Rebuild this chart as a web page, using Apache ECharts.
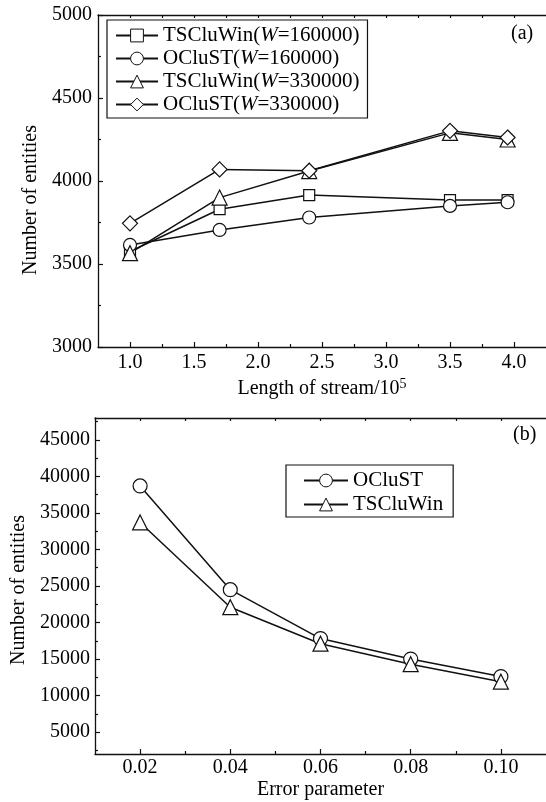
<!DOCTYPE html>
<html>

<head>
  <meta charset="utf-8" />
  <title>Number of entities</title>
</head>
<style type="text/css">
  body {
    margin: 0;
    background: #fff;
  }

  #main {
    width: 546px;
    height: 802px;
  }
</style>

<body>
  <div id="main"></div>
  <script src="https://cdn.jsdelivr.net/npm/echarts@6.0.0/dist/echarts.min.js"></script>
  <script>
    // (a) entities vs length of stream (x10^5)
    var streamLength = [1.0, 1.7, 2.4, 3.5, 3.95];
    var tsCluWin160 = [3575, 3830, 3915, 3885, 3885];
    var oCluST160 = [3615, 3705, 3780, 3850, 3872];
    var tsCluWin330 = [3565, 3900, 4060, 4290, 4250];
    var oCluST330 = [3745, 4070, 4062, 4302, 4262];
    var streamTicks = [1.0, 1.5, 2.0, 2.5, 3.0, 3.5, 4.0];
    var streamMinorTicks = [1.25, 1.75, 2.25, 2.75, 3.25, 3.75];
    var entityTicksA = [3000, 3500, 4000, 4500, 5000];
    var entityMinorTicksA = [3250, 3750, 4250, 4750];

    // (b) entities vs error parameter
    var errorParam = [0.02, 0.04, 0.06, 0.08, 0.10];
    var oCluST = [38700, 24500, 17800, 15000, 12600];
    var tsCluWin = [33700, 22100, 17100, 14300, 11900];
    var errorTicks = [0.02, 0.04, 0.06, 0.08, 0.10];
    var errorMinorTicks = [0.03, 0.05, 0.07, 0.09];
    var entityTicksB = [5000, 10000, 15000, 20000, 25000, 30000, 35000, 40000, 45000];
    var entityMinorTicksB = [2500, 7500, 12500, 17500, 22500, 27500, 32500, 37500, 42500, 47500];

    var FONT = "'Liberation Serif', 'Times New Roman', serif";
    var INK = '#111';

    function zip(xs, ys) {
      return xs.map(function (x, i) {
        return [x, ys[i]];
      });
    }

    // axis that only draws ticks (and optionally labels / line)
    function axis(grid, pos, min, max, ticks, len, opts) {
      opts = opts || {};
      return Object.assign({
        type: 'value',
        gridIndex: grid,
        position: pos,
        min: min,
        max: max,
        splitLine: { show: false },
        axisLine: { show: !!opts.line, lineStyle: { color: INK, width: 1.3 } },
        axisTick: {
          show: true,
          inside: true,
          length: len,
          customValues: ticks,
          lineStyle: { color: INK, width: 1.2 }
        },
        axisLabel: opts.label ? {
          show: true,
          customValues: ticks,
          margin: opts.margin,
          color: '#000',
          fontSize: 20,
          fontFamily: FONT,
          formatter: opts.label
        } : { show: false }
      }, opts.extra || {});
    }

    function lineSeries(name, data, symbol, size, xi, yi) {
      return {
        name: name,
        type: 'line',
        xAxisIndex: xi,
        yAxisIndex: yi,
        data: data,
        symbol: symbol,
        symbolSize: size,
        lineStyle: { color: INK, width: 1.5 },
        itemStyle: { color: '#fff', borderColor: INK, borderWidth: 1.2 },
        z: 3
      };
    }

    var fmt1 = function (v) { return v.toFixed(1); };
    var fmt2 = function (v) { return v.toFixed(2); };
    var fmt0 = function (v) { return String(v); };

    var nameStyle = { color: '#000', fontSize: 20, fontFamily: FONT };

    var myChart = echarts.init(document.getElementById('main'));

    var option = {
      animation: false,
      backgroundColor: '#fff',
      textStyle: { fontFamily: FONT },
      title: [{
        text: '(a)', left: 511, top: 24, padding: 0,
        textStyle: { fontSize: 20, fontWeight: 'normal', color: '#000', fontFamily: FONT }
      }, {
        text: '(b)', left: 513, top: 425, padding: 0,
        textStyle: { fontSize: 20, fontWeight: 'normal', color: '#000', fontFamily: FONT }
      }],
      grid: [
        { left: 98, top: 15, right: -1, bottom: 455 },
        { left: 95, top: 418, right: -4, bottom: 48 }
      ],
      legend: [{
        data: ['TSCluWin(W=160000)', 'OCluST(W=160000)', 'TSCluWin(W=330000)', 'OCluST(W=330000)'],
        orient: 'vertical',
        left: 107,
        top: 20,
        padding: [5, 8, 3, 8],
        itemGap: 2,
        itemWidth: 42,
        itemHeight: 16,
        borderColor: INK,
        borderWidth: 1.2,
        itemStyle: { borderWidth: 1 },
        formatter: function (n) { return n.replace('W=', '{i|W}='); },
        textStyle: {
          color: '#000', fontSize: 21, fontFamily: FONT, lineHeight: 21,
          rich: { i: { fontStyle: 'italic', fontSize: 21, fontFamily: FONT, color: '#000' } }
        }
      }, {
        data: ['OCluST', 'TSCluWin'],
        orient: 'vertical',
        left: 286,
        top: 465,
        padding: [5, 10, 2, 17],
        itemGap: 3,
        itemWidth: 44,
        itemHeight: 16,
        borderColor: INK,
        borderWidth: 1.2,
        itemStyle: { borderWidth: 1 },
        textStyle: { color: '#000', fontSize: 21, fontFamily: FONT, lineHeight: 21 }
      }],
      xAxis: [
        axis(0, 'bottom', 0.75, 4.25, streamTicks, 5, {
          line: true, label: fmt1, margin: 6,
          extra: {
            name: 'Length of stream/10{sup|5}',
            nameLocation: 'middle',
            nameGap: 30,
            nameTextStyle: Object.assign({
              rich: { sup: { fontSize: 14, fontFamily: FONT, color: '#000', verticalAlign: 'top', padding: [0, 0, 9, 0] } }
            }, nameStyle)
          }
        }),
        axis(0, 'bottom', 0.75, 4.25, streamMinorTicks, 3),
        axis(0, 'top', 0.75, 4.25, streamTicks.concat(streamMinorTicks), 3, { line: true }),
        axis(1, 'bottom', 0.01, 0.11, errorTicks, 5, {
          line: true, label: fmt2, margin: 4,
          extra: {
            name: 'Error parameter',
            nameLocation: 'middle',
            nameGap: 26,
            nameTextStyle: nameStyle
          }
        }),
        axis(1, 'bottom', 0.01, 0.11, errorMinorTicks, 3),
        axis(1, 'top', 0.01, 0.11, errorTicks.concat(errorMinorTicks), 3, { line: true })
      ],
      yAxis: [
        axis(0, 'left', 3000, 5000, entityTicksA, 5, {
          line: true, label: fmt0, margin: 6,
          extra: {
            name: 'Number of entities',
            nameLocation: 'middle',
            nameGap: 57,
            nameTextStyle: Object.assign({ padding: [0, 38, 0, 0] }, nameStyle)
          }
        }),
        axis(0, 'left', 3000, 5000, entityMinorTicksA, 3),
        axis(1, 'left', 2000, 48000, entityTicksB, 5, {
          line: true, label: fmt0, margin: 5,
          extra: {
            name: 'Number of entities',
            nameLocation: 'middle',
            nameGap: 65,
            nameTextStyle: Object.assign({ padding: [0, 8, 0, 0] }, nameStyle)
          }
        }),
        axis(1, 'left', 2000, 48000, entityMinorTicksB, 3)
      ],
      series: [
        lineSeries('TSCluWin(W=160000)', zip(streamLength, tsCluWin160), 'rect', 11, 0, 0),
        lineSeries('OCluST(W=160000)', zip(streamLength, oCluST160), 'circle', 13, 0, 0),
        lineSeries('TSCluWin(W=330000)', zip(streamLength, tsCluWin330), 'triangle', 15, 0, 0),
        lineSeries('OCluST(W=330000)', zip(streamLength, oCluST330), 'diamond', 15, 0, 0),
        lineSeries('OCluST', zip(errorParam, oCluST), 'circle', 14, 3, 2),
        lineSeries('TSCluWin', zip(errorParam, tsCluWin), 'triangle', 15, 3, 2)
      ]
    };
    myChart.setOption(option);
  </script>
</body>

</html>
